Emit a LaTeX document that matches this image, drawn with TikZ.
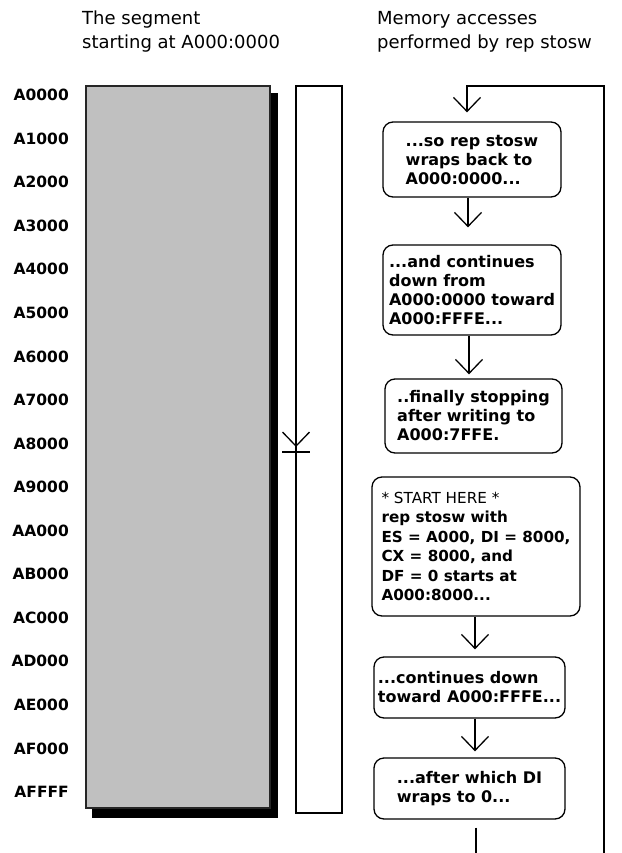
\documentclass[tikz,border=0pt]{standalone}
\usepackage{fontspec}
\setmainfont{DejaVu Sans}
\usetikzlibrary{arrows.meta}
\definecolor{seggray}{RGB}{192,192,192}
\begin{document}
\begin{tikzpicture}[x=1pt,y=-1pt,
  lbl/.style={anchor=east,font=\bfseries\fontsize{15.5}{18}\selectfont,inner sep=0pt},
  ttl/.style={anchor=base west,font=\fontsize{18}{21}\selectfont,inner sep=0pt},
  flowbox/.style={draw,line width=1.3pt,rounded corners=10pt,align=left,inner sep=0pt,
    font=\bfseries\fontsize{16}{19}\selectfont},
  flow/.style={line width=1.3pt,-{Straight Barb[length=14pt,width=27pt,line width=1.3pt]}},
  wire/.style={line width=1.3pt}]
\useasboundingbox (0,0) rectangle (621,853);
\fill[white] (0,0) rectangle (621,853);

% titles
\node[ttl] (t1a) at (82,25) {The segment};
\node[ttl] (t1b) at (82,49) {starting at A000:0000};
\node[ttl] (t2a) at (377,25) {Memory accesses};
\node[ttl] (t2b) at (377,49) {performed by rep stosw};

% segment block with shadow
\fill[black] (92,93) rectangle (278,818);
\filldraw[fill=seggray, draw=black!85, line width=1.5pt] (86,86) rectangle (270,808);

% access column
\draw[line width=2pt] (296,86) rectangle (342,813);
\coordinate (ca) at (296,418);
\coordinate (cb) at (296,447);
\coordinate (cl) at (282,452);
\coordinate (cr) at (310,452);
\draw[flow,line width=1.8pt] (ca) -- (cb);
\draw[line width=1.8pt] (cl) -- (cr);

% address labels
\foreach \t [count=\i from 0] in {A0000,A1000,A2000,A3000,A4000,A5000,A6000,A7000,A8000,A9000,AA000,AB000,AC000,AD000,AE000,AF000,AFFFF}
  \node[lbl] (L\i) at (69,{95+43.56*\i}) {\t};

% flow boxes
\node[flowbox, minimum width=178pt, minimum height=75pt] (b1) at (472,159.5)
  {...so rep stosw\\wraps back to\\A000:0000...};
\node[flowbox, minimum width=178pt, minimum height=90pt] (b2) at (472,290)
  {...and continues\\down from\\A000:0000 toward\\A000:FFFE...};
\node[flowbox, minimum width=177pt, minimum height=74pt] (b3) at (473.5,416)
  {..finally stopping\\after writing to\\A000:7FFE.};
\node[flowbox, minimum width=208pt, minimum height=139pt,
      font=\bfseries\fontsize{15.2}{19.5}\selectfont] (b4) at (476,546.5)
  {{\mdseries * START HERE *}\\rep stosw with\\ES = A000, DI = 8000,\\CX = 8000, and\\DF = 0 starts at\\A000:8000...};
\node[flowbox, minimum width=191pt, minimum height=61pt] (b5) at (469.5,687.5)
  {...continues down\\toward A000:FFFE...};
\node[flowbox, minimum width=191pt, minimum height=61pt] (b6) at (469.5,788.5)
  {...after which DI\\wraps to 0...};

% loop coordinates
\coordinate (lb) at (476,853);
\coordinate (rb) at (604,853);
\coordinate (rt) at (604,86);
\coordinate (lt) at (467,86);

% connectors
\draw[wire, shorten <=8pt] (lb |- b6.south) -- (lb);
\draw[flow, shorten >=9pt] (rb) -- (rt) -- (lt) -- (lt |- b1.north);
\draw[flow, shorten >=17pt] ([xshift=-4pt]b1.south) -- ([xshift=-4pt]b1.south |- b2.north);
\draw[flow, shorten >=4pt] ([xshift=-3pt]b2.south) -- ([xshift=-3pt]b2.south |- b3.north);
\draw[flow, shorten >=7pt] ([xshift=-1pt]b4.south) -- ([xshift=-1pt]b4.south |- b5.north);
\draw[flow, shorten >=6pt] ([xshift=5.5pt]b5.south) -- ([xshift=5.5pt]b5.south |- b6.north);
\end{tikzpicture}
\end{document}
